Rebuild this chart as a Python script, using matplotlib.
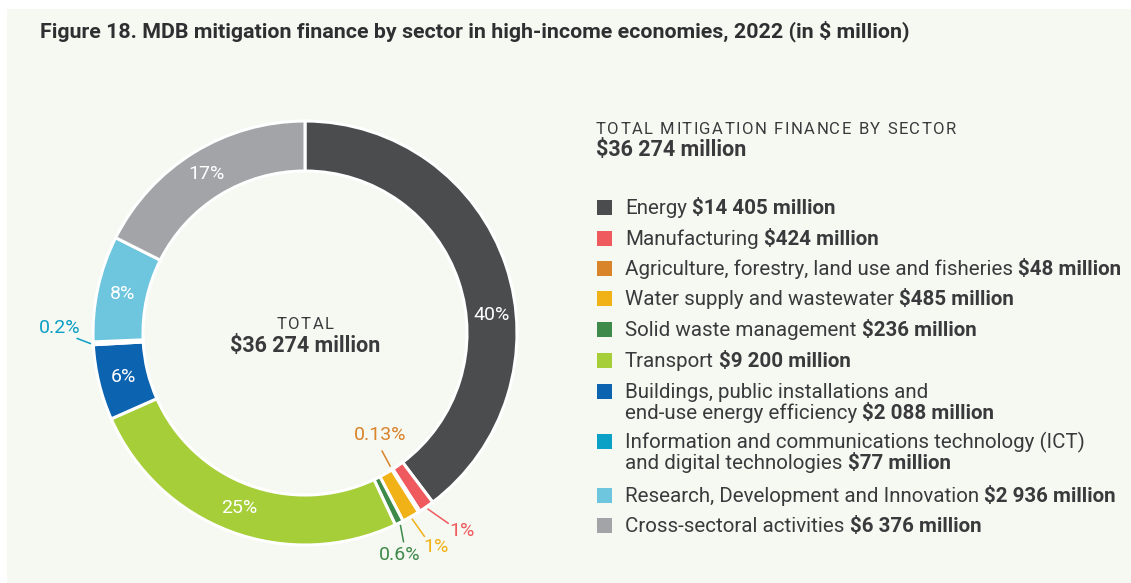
import numpy as np
import matplotlib
matplotlib.use('Agg')
import matplotlib.pyplot as plt
from matplotlib.patches import Rectangle

plt.rcParams['font.family'] = ['Roboto', 'DejaVu Sans']

W, H = 1131, 583

title = 'Figure 18. MDB mitigation finance by sector in high-income economies, 2022 (in $ million)'
legend_heading = 'TOTAL MITIGATION FINANCE BY SECTOR'
total_text = '$36 274 million'

sectors = ['Energy',
           'Manufacturing',
           'Agriculture, forestry, land use and fisheries',
           'Water supply and wastewater',
           'Solid waste management',
           'Transport',
           'Buildings, public installations and\nend-use energy efficiency',
           'Information and communications technology (ICT)\nand digital technologies',
           'Research, Development and Innovation',
           'Cross-sectoral activities']
amounts = [14405, 424, 48, 485, 236, 9200, 2088, 77, 2936, 6376]
amount_labels = ['$14 405 million', '$424 million', '$48 million', '$485 million',
                 '$236 million', '$9 200 million', '$2 088 million', '$77 million',
                 '$2 936 million', '$6 376 million']
pct_labels = ['40%', '1%', '0.13%', '1%', '0.6%', '25%', '6%', '0.2%', '8%', '17%']
colors = ['#4b4c4e', '#ef5a5f', '#d9832a', '#f0b216', '#3e8a4a',
          '#a6ce39', '#0c64b0', '#0ba0c5', '#6dc5de', '#a3a4a8']

bg = '#f6f8f2'
text_color = '#3a3a3c'

fig = plt.figure(figsize=(W / 100, H / 100), dpi=100)
fig.patch.set_facecolor('white')
ax = fig.add_axes([0, 0, 1, 1])
ax.add_patch(Rectangle((7, 0), W - 7, H - 9, facecolor=bg, edgecolor='none', zorder=0))

cx, cy = 305, 333
R_out, ring = 212, 50

ax.pie(amounts, colors=colors, startangle=90, counterclock=False, radius=R_out,
       center=(cx, H - cy), wedgeprops=dict(width=ring, edgecolor='white', linewidth=2.2))
ax.set_xlim(0, W)
ax.set_ylim(0, H)
ax.set_aspect('auto')
ax.axis('off')

renderer = fig.canvas.get_renderer()


def measure(s, size, weight='normal', family=None):
    kw = {} if family is None else {'family': family}
    t = ax.text(0, 0, s, fontsize=size, fontweight=weight, **kw)
    w = t.get_window_extent(renderer).width
    t.remove()
    return w


def polar(theta_deg, r):
    th = np.radians(theta_deg)
    return cx + r * np.cos(th), cy - r * np.sin(th)


# angles of wedge centres, clockwise from top
fr = np.array(amounts) / sum(amounts)
mid = np.cumsum(fr) - fr / 2
theta = 90 - 360 * mid

pct_size = 14

# inner percentage labels on the big slices
big = [0, 5, 6, 8, 9]
for i in big:
    th = theta[i]
    if i == 0:
        th = th - 13  # energy label sits lower in the original
    x, y = polar(th, 187)
    ax.text(x, H - y, pct_labels[i], color='white', fontsize=pct_size,
            ha='center', va='center')

# callouts for the small slices: (radius at start, line vector, label offset)
callouts = {1: (215, (20, 14), (34, 22)),
            2: (158, (-8, -15), (-10, -31)),
            3: (215, (12, 17), (24, 28)),
            4: (215, (3, 16), (-1, 29)),
            7: (215, (-13, -5), (-31, -15))}
for i, (r0, (dx, dy), (lx, ly)) in callouts.items():
    x0, y0 = polar(theta[i], r0)
    ax.plot([x0, x0 + dx], [H - y0, H - y0 - dy], color=colors[i], lw=1.1, clip_on=False)
    ax.text(x0 + lx, H - y0 - ly, pct_labels[i], color=colors[i], fontsize=pct_size,
            ha='center', va='center')


def spaced(x, y, s, size, track, weight='normal', ha='left'):
    ws = [measure('|' + c + '|', size, weight) - measure('||', size, weight) for c in s]
    total = sum(ws) + track * (len(s) - 1)
    if ha == 'center':
        x -= total / 2
    for c, w in zip(s, ws):
        ax.text(x, H - y, c, fontsize=size, fontweight=weight, color=text_color,
                ha='left', va='baseline')
        x += w + track


# centre of the donut
spaced(cx, 329, 'TOTAL', 12, 1.6, ha='center')
ax.text(cx, H - 352, total_text, fontsize=15.5, fontweight='bold', color=text_color,
        ha='center', va='baseline')

# title, fitted to width
tfam = ['Liberation Sans Narrow', 'Roboto']
ts = 14 * 870 / measure(title, 14, 'bold', tfam)
ax.text(40, H - 37, title, fontsize=ts, fontweight='bold', family=tfam,
        color='#2f2f31', ha='left', va='baseline')

# legend
spaced(596, 134, legend_heading, 12, 1.5)
ax.text(596, H - 156, total_text, fontsize=15.5, fontweight='bold', color=text_color,
        ha='left', va='baseline')

lsize = 13 * 496 / (measure(sectors[2] + ' ', 13) + measure(amount_labels[2], 13, 'bold'))
space_w = measure('a a', lsize) - measure('aa', lsize)

rows = [207, 238.5, 268.5, 298.5, 329.8, 360.8, 391.8, 441.8, 495.8, 525.8]
for i, name in enumerate(sectors):
    yc = rows[i]
    ax.add_patch(Rectangle((597, H - yc - 7.5), 15, 15, facecolor=colors[i], edgecolor='none'))
    lines = name.split('\n')
    base = yc + 6.5
    for k, line in enumerate(lines):
        yb = base + 21 * k
        t = ax.text(625, H - yb, line, fontsize=lsize, color=text_color, ha='left', va='baseline')
        if k == len(lines) - 1:
            x = 625 + t.get_window_extent(renderer).width + space_w
            ax.text(x, H - yb, amount_labels[i], fontsize=lsize, fontweight='bold',
                    color=text_color, ha='left', va='baseline')

fig.savefig('out.png', dpi=100, facecolor=fig.get_facecolor())
